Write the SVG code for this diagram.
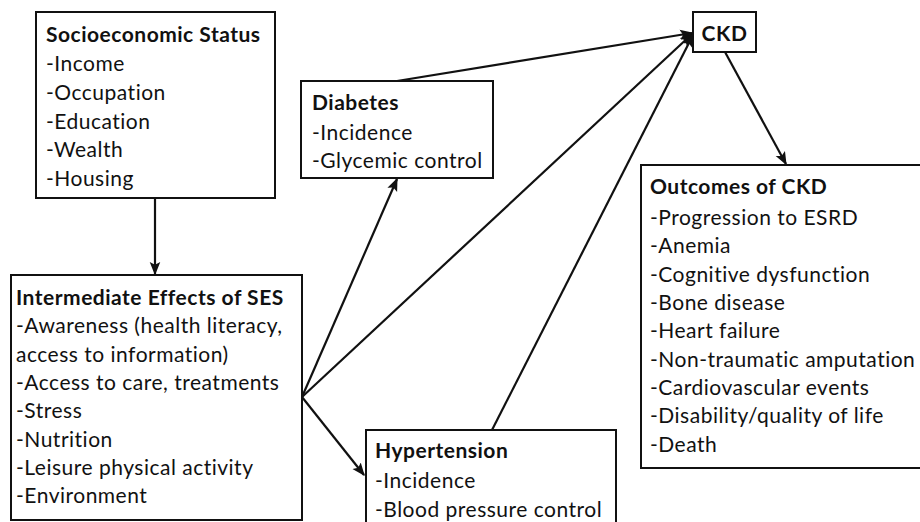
<svg xmlns="http://www.w3.org/2000/svg" width="920" height="522" viewBox="0 0 920 522">
<style>
.box{fill:#fff;stroke:#111;stroke-width:2}
text{font-family:Lato,"Liberation Sans",sans-serif;font-size:21px;letter-spacing:0.5px;fill:#111}
.b{font-weight:bold}
.c{stroke:#111;stroke-width:2.2;fill:none;marker-end:url(#ah)}
</style>
<defs>
<marker id="ah" viewBox="0 0 10 10" refX="9" refY="5" markerWidth="6" markerHeight="6" markerUnits="strokeWidth" orient="auto">
<path d="M0,1 L10,5 L0,9 L2,5 z" fill="#111"/>
</marker>
</defs>
<rect width="920" height="522" fill="#fff"/>
<g id="connectors">
<line class="c" x1="155" y1="198" x2="155" y2="274"/>
<line class="c" x1="302" y1="397" x2="397" y2="179"/>
<line class="c" x1="302" y1="397" x2="692" y2="34"/>
<line class="c" x1="302" y1="397" x2="364" y2="475"/>
<line class="c" x1="397" y1="81" x2="692" y2="33"/>
<line class="c" x1="492" y1="430" x2="693" y2="35"/>
<line class="c" x1="725" y1="52" x2="786" y2="164"/>
</g>
<g id="ses">
<rect class="box" x="36" y="12" width="239" height="186"/>
<text x="46" y="42" class="b">Socioeconomic Status</text>
<text x="46" y="71">-Income</text>
<text x="46" y="100">-Occupation</text>
<text x="46" y="129">-Education</text>
<text x="46" y="157">-Wealth</text>
<text x="46" y="186">-Housing</text>
</g>
<g id="intermediate">
<rect class="box" x="11" y="275" width="291" height="245"/>
<text x="16" y="305" class="b">Intermediate Effects of SES</text>
<text x="16" y="333">-Awareness (health literacy,</text>
<text x="16" y="362">access to information)</text>
<text x="16" y="390">-Access to care, treatments</text>
<text x="16" y="418">-Stress</text>
<text x="16" y="447">-Nutrition</text>
<text x="16" y="475">-Leisure physical activity</text>
<text x="16" y="503">-Environment</text>
</g>
<g id="diabetes">
<rect class="box" x="301" y="81" width="192" height="97"/>
<text x="312" y="110" class="b">Diabetes</text>
<text x="312" y="140">-Incidence</text>
<text x="312" y="168">-Glycemic control</text>
</g>
<g id="ckd">
<rect class="box" x="693" y="12" width="63" height="40"/>
<text x="724.5" y="41" class="b" text-anchor="middle">CKD</text>
</g>
<g id="outcomes">
<rect class="box" x="641" y="165" width="290" height="303"/>
<text x="650" y="194" class="b">Outcomes of CKD</text>
<text x="650" y="225">-Progression to ESRD</text>
<text x="650" y="253">-Anemia</text>
<text x="650" y="282">-Cognitive dysfunction</text>
<text x="650" y="310">-Bone disease</text>
<text x="650" y="338">-Heart failure</text>
<text x="650" y="367">-Non-traumatic amputation</text>
<text x="650" y="395">-Cardiovascular events</text>
<text x="650" y="423">-Disability/quality of life</text>
<text x="650" y="452">-Death</text>
</g>
<g id="hypertension">
<rect class="box" x="366" y="430" width="250" height="100"/>
<text x="375" y="458" class="b">Hypertension</text>
<text x="375" y="488">-Incidence</text>
<text x="375" y="517">-Blood pressure control</text>
</g>
</svg>
